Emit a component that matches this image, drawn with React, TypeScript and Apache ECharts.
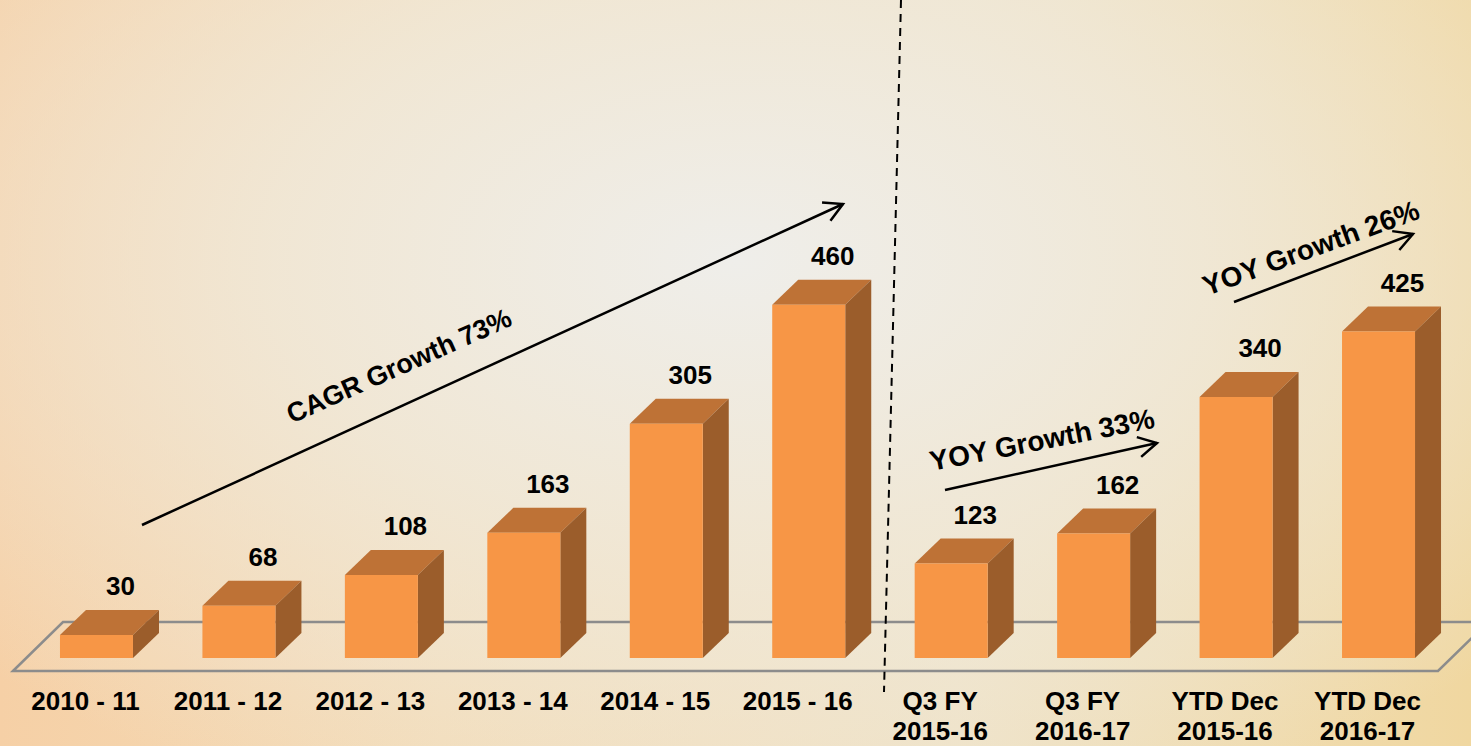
import React, { useEffect, useRef } from "react";
import * as echarts from "echarts";

const categories = [
  "2010 - 11",
  "2011 - 12",
  "2012 - 13",
  "2013 - 14",
  "2014 - 15",
  "2015 - 16",
  "Q3 FY\n2015-16",
  "Q3 FY\n2016-17",
  "YTD Dec\n2015-16",
  "YTD Dec\n2016-17",
];
const values = [30, 68, 108, 163, 305, 460, 123, 162, 340, 425];

const annotations = [
  { text: "CAGR Growth 73%", x: 399, y: 366, angle: 24, size: 27 },
  { text: "YOY Growth 33%", x: 1042, y: 440, angle: 11, size: 28 },
  { text: "YOY Growth 26%", x: 1311, y: 248, angle: 20, size: 28 },
];
const arrows = [
  [142, 525, 843, 204],
  [945, 490, 1157, 443],
  [1234, 302, 1413, 234],
];

const FRONT = "#F79646";
const TOP = "#BE7236";
const SIDE = "#9B5D2B";
const FONT = '"Liberation Sans", Arial, Helvetica, sans-serif';

function arrowEls(x1: number, y1: number, x2: number, y2: number) {
  const a = Math.atan2(y2 - y1, x2 - x1);
  const L = 21;
  const s = 0.5;
  return [
    {
      type: "line",
      shape: { x1, y1, x2, y2 },
      style: { stroke: "#000", lineWidth: 2.5 },
    },
    {
      type: "polyline",
      shape: {
        points: [
          [x2 - L * Math.cos(a - s), y2 - L * Math.sin(a - s)],
          [x2, y2],
          [x2 - L * Math.cos(a + s), y2 - L * Math.sin(a + s)],
        ],
      },
      style: { stroke: "#000", lineWidth: 2.5, fill: null },
    },
  ];
}

export default function App() {
  const ref = useRef<HTMLDivElement>(null);
  useEffect(() => {
    if (!ref.current) return;
    const chart = echarts.init(ref.current, null, { renderer: "svg" });
    const DX = 26;
    const DY = -25;
    const graphics: any[] = [
      {
        type: "polygon",
        z: 0,
        shape: {
          points: [
            [13, 671],
            [63, 622],
            [1488, 622],
            [1438, 671],
          ],
        },
        style: { fill: "rgba(255,255,255,0.05)", stroke: "#8c8c8c", lineWidth: 2.5 },
      },
      {
        type: "line",
        z: 10,
        shape: { x1: 901, y1: 0, x2: 884, y2: 692 },
        style: { stroke: "#000", lineWidth: 2, lineDash: [8, 6] },
      },
    ];
    arrows.forEach((a) => {
      arrowEls(a[0], a[1], a[2], a[3]).forEach((e) => graphics.push({ ...e, z: 10 }));
    });
    annotations.forEach((t) => {
      graphics.push({
        type: "text",
        z: 10,
        x: t.x,
        y: t.y,
        rotation: (t.angle * Math.PI) / 180,
        style: {
          text: t.text,
          fill: "#000",
          font: `bold ${t.size}px ${FONT}`,
          align: "center",
          verticalAlign: "middle",
        },
      });
    });

    chart.setOption({
      animation: false,
      backgroundColor: "transparent",
      grid: { left: 25.25, right: 21.25, top: 197.2, bottom: 87 },
      xAxis: {
        type: "category",
        data: categories,
        boundaryGap: true,
        axisLine: { show: false },
        axisTick: { show: false },
        splitLine: { show: false },
        axisLabel: {
          interval: 0,
          margin: 28,
          color: "#000",
          fontSize: 26,
          fontWeight: "bold",
          fontFamily: FONT,
          lineHeight: 30,
          padding: [0, 22, 0, 0],
        },
      },
      yAxis: {
        type: "value",
        min: 0,
        max: 600,
        show: false,
        splitLine: { show: false },
      },
      graphic: graphics,
      series: [
        {
          type: "custom",
          z: 5,
          data: values.map((v, i) => [i, v]),
          renderItem: (params: any, api: any) => {
            const idx = api.value(0);
            const v = api.value(1);
            const top = api.coord([idx, v]);
            const base = api.coord([idx, 0]);
            const bw = api.size([1, 0])[0] * 0.5125;
            const x0 = top[0] - bw / 2;
            const x1 = top[0] + bw / 2;
            const yT = top[1];
            const yB = base[1];
            return {
              type: "group",
              children: [
                {
                  type: "polygon",
                  shape: {
                    points: [
                      [x0, yT],
                      [x1, yT],
                      [x1 + DX, yT + DY],
                      [x0 + DX, yT + DY],
                    ],
                  },
                  style: { fill: TOP },
                },
                {
                  type: "polygon",
                  shape: {
                    points: [
                      [x1, yT],
                      [x1 + DX, yT + DY],
                      [x1 + DX, yB + DY],
                      [x1, yB],
                    ],
                  },
                  style: { fill: SIDE },
                },
                {
                  type: "rect",
                  shape: { x: x0, y: yT, width: bw, height: yB - yT },
                  style: { fill: FRONT },
                },
                {
                  type: "text",
                  style: {
                    text: String(v),
                    x: top[0] + 24,
                    y: yT + DY - 24,
                    align: "center",
                    verticalAlign: "middle",
                    fill: "#000",
                    font: `bold 26px ${FONT}`,
                  },
                },
              ],
            };
          },
        },
      ],
    });
    return () => chart.dispose();
  }, []);

  return (
    <div
      style={{
        position: "fixed",
        left: 0,
        top: 0,
        width: 1471,
        height: 746,
        background:
          "radial-gradient(ellipse 70% 80% at 50% 35%, rgba(239,238,234,1) 0%, rgba(240,233,218,0.85) 45%, rgba(240,225,190,0) 100%), linear-gradient(90deg, #f6d0a6 0%, #f3dcb8 30%, #efe2c6 65%, #f0d7a0 100%)",
      }}
    >
      <div ref={ref} style={{ width: 1471, height: 746 }} />
    </div>
  );
}
